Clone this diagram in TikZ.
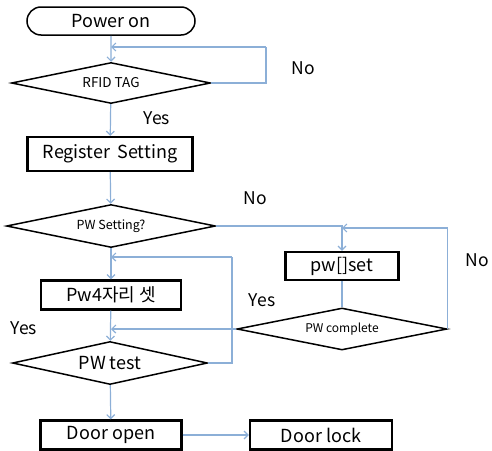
\documentclass[tikz,border=0pt]{standalone}
\usepackage{fontspec}
\setmainfont{Noto Sans CJK KR}
\usetikzlibrary{shapes.geometric,shapes.misc,arrows.meta}
\definecolor{linkblue}{RGB}{140,175,215}

\begin{document}
\begin{tikzpicture}[x=1pt,y=-1pt,
    terminal/.style={rounded rectangle,draw,line width=1.5pt,minimum width=168pt,minimum height=28pt,inner sep=0pt,font=\fontsize{18}{18}\selectfont},
    process/.style={rectangle,draw,line width=2.2pt,minimum height=29pt,inner sep=0pt,font=\fontsize{18}{18}\selectfont},
    decision/.style={diamond,draw,line width=1.5pt,inner sep=0pt,aspect=4.8,font=\fontsize{12.5}{12.5}\selectfont},
    answer/.style={font=\fontsize{17.5}{17.5}\selectfont},
    link/.style={draw=linkblue,line width=1.2pt},
    linkto/.style={link,-{Straight Barb[length=4pt,width=8pt]}}]
  \useasboundingbox (0,0) rectangle (492,450);
  % main column
  \node[terminal] (power) at (111,21) {Power on};
  \node[decision,minimum width=199pt,minimum height=41pt,font=\fontsize{13.5}{13.5}\selectfont] (rfid) at (111,83) {RFID TAG};
  \node[process,minimum width=165pt,minimum height=34pt] (register) at (110,154) {Register\, Setting};
  \node[decision,minimum width=209pt,minimum height=43pt] (pwsetting) at (111,226) {PW Setting?};
  \node[process,minimum width=140pt] (pwfour) at (111,295) {Pw4자리 셋};
  \node[decision,minimum width=195pt,minimum height=43pt,font=\fontsize{18}{18}\selectfont] (pwtest) at (110,363) {PW test};
  \node[process,minimum width=141pt] (dooropen) at (111,435) {Door open};
  \node[process,minimum width=142pt] (doorlock) at (321,435) {Door lock};
  % right column
  \node[process,minimum width=113pt,minimum height=28pt] (pwset) at (342,266) {pw[]set};
  \node[decision,minimum width=210pt,minimum height=42pt,font=\fontsize{12}{12}\selectfont] (pwcomplete) at (342,329) {PW complete};
  % answers
  \node[answer] (rfidno) at (303,68) {No};
  \node[answer] (rfidyes) at (157,118) {Yes};
  \node[answer] (pwsno) at (255,198) {No};
  \node[answer] (pwcno) at (477,260) {No};
  \node[answer] (pwcyes) at (262,300) {Yes};
  \node[answer] (pwtyes) at (24,328) {Yes};
  % loop corners
  \coordinate (rfidback) at (266,47);
  \coordinate (pwcback) at (447,228);
  \coordinate (pwtback) at (232,257);
  % connectors
  \draw[linkto] (power) -- (rfid);
  \draw[link] (rfid.east) -| (rfidback);
  \draw[linkto] (rfidback) -- (power.south |- rfidback);
  \draw[linkto] (rfid) -- (register);
  \draw[linkto] (register) -- (pwsetting);
  \draw[linkto] (pwsetting) -- (pwfour);
  \draw[linkto] (pwsetting.east) -| (pwset.north);
  \draw[link] (pwset) -- (pwcomplete);
  \draw[link] (pwcomplete.east) -- (pwcomplete.east |- pwcback);
  \draw[linkto] (pwcomplete.east |- pwcback) -- (pwset.north |- pwcback);
  \draw[linkto] (pwcomplete.west) -- (pwfour.south |- pwcomplete.west);
  \draw[linkto] (pwfour) -- (pwtest);
  \draw[link] (pwtest.east) -| (pwtback);
  \draw[linkto] (pwtback) -- (pwfour.north |- pwtback);
  \draw[linkto] (pwtest) -- (dooropen);
  \draw[linkto] (dooropen) -- (doorlock);
\end{tikzpicture}
\end{document}
